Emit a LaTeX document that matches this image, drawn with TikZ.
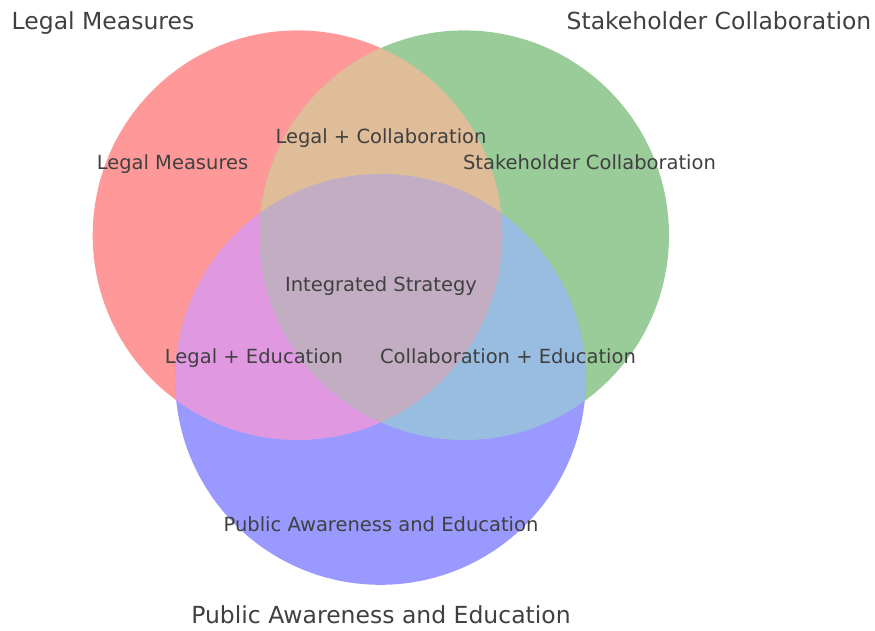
\documentclass[tikz,border=0pt]{standalone}
\usepackage{fontspec}
\setmainfont{DejaVu Sans}
\begin{document}
\definecolor{cA}{RGB}{255,153,153}
\definecolor{cB}{RGB}{153,204,153}
\definecolor{cC}{RGB}{153,153,255}
\definecolor{cAB}{RGB}{224,189,153}
\definecolor{cAC}{RGB}{224,153,224}
\definecolor{cBC}{RGB}{153,189,224}
\definecolor{cABC}{RGB}{194,173,194}
\definecolor{txt}{RGB}{64,64,64}
\begin{tikzpicture}[x=1pt,y=-1pt,
  title/.style={anchor=base,inner sep=0pt,text=txt,font=\fontsize{23.5}{28}\selectfont},
  region/.style={anchor=base,inner sep=0pt,text=txt,font=\fontsize{19.5}{23}\selectfont}]
\useasboundingbox (0,0) rectangle (875,630);
% set circles
\def\circA{(297.5,235.2) circle[radius=204.8]}
\def\circB{(464.2,235.2) circle[radius=204.8]}
\def\circC{(380.5,379.5) circle[radius=205.3]}
\fill[cA] \circA;
\fill[cB] \circB;
\fill[cC] \circC;
% pairwise overlaps
\begin{scope}\clip \circA; \fill[cAB] \circB;\end{scope}
\begin{scope}\clip \circA; \fill[cAC] \circC;\end{scope}
\begin{scope}\clip \circB; \fill[cBC] \circC;\end{scope}
% triple overlap
\begin{scope}\clip \circA; \clip \circB; \fill[cABC] \circC;\end{scope}
% set titles
\node[title] (tA) at (103,29) {Legal Measures};
\node[title] (tB) at (719,29) {Stakeholder Collaboration};
\node[title] (tC) at (381,623) {Public Awareness and Education};
% region labels
\node[region] (rA) at (172.5,169) {Legal Measures};
\node[region] (rB) at (589.5,169) {Stakeholder Collaboration};
\node[region] (rAB) at (381,143) {Legal + Collaboration};
\node[region] (rABC) at (381,291) {Integrated Strategy};
\node[region] (rAC) at (254,363) {Legal + Education};
\node[region] (rBC) at (508,363) {Collaboration + Education};
\node[region] (rC) at (381,531) {Public Awareness and Education};
\end{tikzpicture}
\end{document}
